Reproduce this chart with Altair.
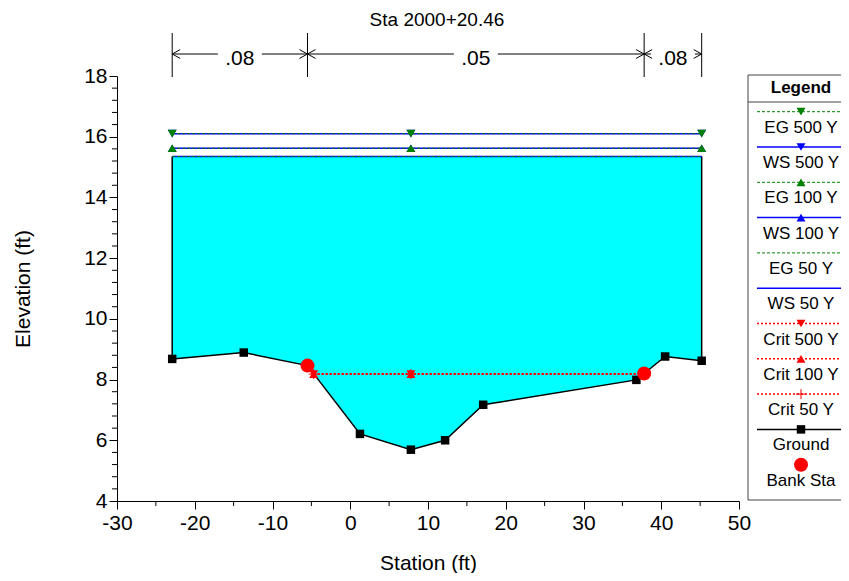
import altair as alt
import pandas as pd

FONT = "Liberation Sans"

# ---------------- data ----------------
title_text = "Sta 2000+20.46"
ground_sta = [-22.9, -13.7, -5.5, 1.25, 7.8, 12.2, 17.1, 36.8, 37.8, 40.5, 45.2]
ground_elev = [8.68, 8.89, 8.46, 6.21, 5.69, 6.00, 7.17, 7.99, 8.20, 8.76, 8.62]
bank_sta = [-5.5, 37.8]
bank_elev = [8.46, 8.20]
profile_names = ["EG 500 Y", "WS 500 Y", "EG 100 Y", "WS 100 Y", "EG 50 Y",
                 "WS 50 Y", "Crit 500 Y", "Crit 100 Y", "Crit 50 Y"]
profile_elev = [16.10, 16.10, 15.62, 15.62, 15.35, 15.35, 8.18, 8.18, 8.18]
crit_extent = [-4.7, 37.7]          # where the critical surface meets the ground
thalweg_sta = 7.8
n_sta = [-22.9, -5.5, 37.8, 45.2]
n_values = [".08", ".05", ".08"]
legend_names = profile_names + ["Ground", "Bank Sta"]
x_ticks = [-30, -20, -10, 0, 10, 20, 30, 40, 50]
y_ticks = [4, 6, 8, 10, 12, 14, 16, 18]
x_minor = [-25, -15, -5, 5, 15, 25, 35, 45]
y_minor = [round(4 + 0.4 * k, 1) for k in range(1, 35) if k % 5 != 0]

# ---------------- styles ----------------
W, H = 622, 425
XMIN, XMAX = -30, 50
PX_PER_UNIT = W / (XMAX - XMIN)
GREEN, BLUE, RED, CYAN = "#008000", "#0000FF", "#FF0000", "#00FFFF"
PLUS = "M -1 0 L 1 0 M 0 -1 L 0 1"
CHEV_L = "M 0 0 L 1 -0.55 M 0 0 L 1 0.55"
CHEV_R = "M 0 0 L -1 -0.55 M 0 0 L -1 0.55"

style = {
    "EG 500 Y": dict(color=GREEN, dash=[3, 2], width=1, shape="triangle-down"),
    "WS 500 Y": dict(color=BLUE, dash=None, width=1.5, shape="triangle-down"),
    "EG 100 Y": dict(color=GREEN, dash=[3, 2], width=1, shape="triangle-up"),
    "WS 100 Y": dict(color=BLUE, dash=None, width=1.5, shape="triangle-up"),
    "EG 50 Y": dict(color=GREEN, dash=[3, 2], width=1, shape=None),
    "WS 50 Y": dict(color=BLUE, dash=None, width=1.5, shape=None),
    "Crit 500 Y": dict(color=RED, dash=[2, 2], width=1.5, shape="triangle-down"),
    "Crit 100 Y": dict(color=RED, dash=[2, 2], width=1.5, shape="triangle-up"),
    "Crit 50 Y": dict(color=RED, dash=[2, 2], width=1.5, shape=PLUS),
    "Ground": dict(color="black", dash=None, width=1.5, shape="square"),
}

xs = alt.Scale(domain=[XMIN, XMAX], nice=False, zero=False)
ys = alt.Scale(domain=[4, 18], nice=False, zero=False)

axis_common = dict(grid=False, tickSize=8, tickColor="black", domainColor="black",
                   labelColor="black", titleColor="black", labelFont=FONT,
                   titleFont=FONT, labelFontSize=21, titleFontSize=21,
                   titleFontWeight="normal", labelFlush=False, labelOverlap=False,
                   labelExpr="datum.value + ''")
x_axis = alt.Axis(values=x_ticks, title="Station (ft)", labelPadding=3,
                  titlePadding=19, **axis_common)
y_axis = alt.Axis(values=y_ticks, title="Elevation (ft)", labelPadding=2,
                  titlePadding=50, **axis_common)


def X(f):
    return alt.X(f, type="quantitative", scale=xs, axis=x_axis)


def Y(f):
    return alt.Y(f, type="quantitative", scale=ys, axis=y_axis)


def line_kw(st):
    kw = dict(color=st["color"], strokeWidth=st["width"])
    if st["dash"]:
        kw["strokeDash"] = st["dash"]
    return kw


def point_kw(st, size=80):
    if st["shape"] == PLUS:
        return dict(shape=PLUS, filled=False, color=st["color"], strokeWidth=1,
                    size=100, opacity=1)
    return dict(shape=st["shape"], filled=True, color=st["color"], size=size,
                opacity=1, strokeWidth=0)


layers = []

# ---- water fill (lowest profile surface down to ground) ----
ws_fill = profile_elev[profile_names.index("WS 50 Y")]
area_df = pd.DataFrame({"sta": ground_sta, "elev": ground_elev, "top": ws_fill})
layers.append(alt.Chart(area_df).mark_area(color=CYAN, opacity=1).encode(
    x=X("sta"), y=Y("elev"), y2="top"))

# ---- vertical end walls ----
wall_df = pd.DataFrame({"sta": [ground_sta[0], ground_sta[-1]],
                        "elev": [ground_elev[0], ground_elev[-1]], "top": ws_fill})
layers.append(alt.Chart(wall_df).mark_rule(color="black", strokeWidth=1.5).encode(
    x=X("sta"), y=Y("elev"), y2="top"))

# ---- ground line ----
g_df = pd.DataFrame({"sta": ground_sta, "elev": ground_elev})
layers.append(alt.Chart(g_df).mark_line(**line_kw(style["Ground"])).encode(
    x=X("sta"), y=Y("elev")))
layers.append(alt.Chart(g_df).mark_point(**point_kw(style["Ground"], 72)).encode(
    x=X("sta"), y=Y("elev")))

# ---- minor ticks ----
layers.append(alt.Chart(pd.DataFrame({"v": x_minor})).mark_rule(color="black").encode(
    x=X("v"), y=alt.value(H), y2=alt.value(H + 5)))
layers.append(alt.Chart(pd.DataFrame({"v": y_minor})).mark_rule(color="black").encode(
    y=Y("v"), x=alt.value(-5), x2=alt.value(0)))

# ---- water surface profiles ----
draw_order = ["WS 50 Y", "EG 50 Y", "WS 100 Y", "EG 100 Y", "WS 500 Y", "EG 500 Y",
              "Crit 50 Y", "Crit 100 Y", "Crit 500 Y"]
for name in draw_order:
    st = style[name]
    v = profile_elev[profile_names.index(name)]
    if name.startswith("Crit"):
        a, b = crit_extent
    else:
        a, b = ground_sta[0], ground_sta[-1]
    ldf = pd.DataFrame({"sta": [a, b], "elev": [v, v]})
    layers.append(alt.Chart(ldf).mark_line(**line_kw(st)).encode(x=X("sta"), y=Y("elev")))
    if st["shape"]:
        mdf = pd.DataFrame({"sta": [a, thalweg_sta, b], "elev": [v, v, v]})
        layers.append(alt.Chart(mdf).mark_point(**point_kw(st)).encode(
            x=X("sta"), y=Y("elev")))

# ---- bank stations ----
layers.append(alt.Chart(pd.DataFrame({"sta": bank_sta, "elev": bank_elev})).mark_point(
    shape="circle", filled=True, color=RED, size=196, opacity=1).encode(
    x=X("sta"), y=Y("elev")))

# ---- title ----
mid_all = (ground_sta[0] + ground_sta[-1]) / 2
layers.append(alt.Chart(pd.DataFrame({"sta": [mid_all], "t": [title_text]})).mark_text(
    font=FONT, fontSize=19, color="black", baseline="alphabetic").encode(
    x=X("sta"), y=alt.value(-50), text="t:N"))

# ---- Manning's n annotation ----
N_TOP, N_BOT, N_LINE, N_TEXT = -43, 1, -22, -11
layers.append(alt.Chart(pd.DataFrame({"sta": n_sta})).mark_rule(color="black").encode(
    x=X("sta"), y=alt.value(N_TOP), y2=alt.value(N_BOT)))
gap = 22 / PX_PER_UNIT
segs, mids = [], []
for i, nv in enumerate(n_values):
    a, b = n_sta[i], n_sta[i + 1]
    m = (a + b) / 2
    mids.append(m)
    if m - gap > a:
        segs.append((a, m - gap))
    if b > m + gap:
        segs.append((m + gap, b))
seg_df = pd.DataFrame(segs, columns=["s1", "s2"])
layers.append(alt.Chart(seg_df).mark_rule(color="black").encode(
    x=X("s1"), x2="s2", y=alt.value(N_LINE)))
layers.append(alt.Chart(pd.DataFrame({"sta": n_sta[:-1]})).mark_point(
    shape=CHEV_L, filled=False, color="black", size=256, opacity=1, strokeWidth=1).encode(
    x=X("sta"), y=alt.value(N_LINE)))
layers.append(alt.Chart(pd.DataFrame({"sta": n_sta[1:]})).mark_point(
    shape=CHEV_R, filled=False, color="black", size=256, opacity=1, strokeWidth=1).encode(
    x=X("sta"), y=alt.value(N_LINE)))
layers.append(alt.Chart(pd.DataFrame({"sta": mids, "n": n_values})).mark_text(
    font=FONT, fontSize=21, color="black", baseline="alphabetic").encode(
    x=X("sta"), y=alt.value(N_TEXT), text="n:N"))

# ---- custom legend (pixel positions relative to the plot area) ----
one = pd.DataFrame({"a": [0]})
BOX_L, BOX_R, BOX_T, BOX_B = 631, 790, -1, H - 1
SAMPLE_A, SAMPLE_B, SAMPLE_C = 640, 728, 684
ROW0, ROWSTEP = 35.7, 35.3
layers.append(alt.Chart(one).mark_rect(fill="white", stroke="#444444", strokeWidth=1).encode(
    x=alt.value(BOX_L), x2=alt.value(BOX_R), y=alt.value(BOX_T), y2=alt.value(BOX_B)))
layers.append(alt.Chart(one).mark_rule(color="#444444", strokeWidth=1).encode(
    x=alt.value(BOX_L), x2=alt.value(BOX_R), y=alt.value(26), y2=alt.value(26)))
layers.append(alt.Chart(one).mark_text(
    font=FONT, fontSize=17, fontWeight="bold", color="black", baseline="middle").encode(
    x=alt.value(SAMPLE_C), y=alt.value(12), text=alt.value("Legend")))

for i, name in enumerate(legend_names):
    yl = ROW0 + i * ROWSTEP
    if name in style:
        st = style[name]
        layers.append(alt.Chart(one).mark_rule(**line_kw(st)).encode(
            x=alt.value(SAMPLE_A), x2=alt.value(SAMPLE_B), y=alt.value(yl), y2=alt.value(yl)))
        if st["shape"]:
            layers.append(alt.Chart(one).mark_point(
                **point_kw(st, 72 if name == "Ground" else 80)).encode(
                x=alt.value(SAMPLE_C), y=alt.value(yl)))
    else:
        layers.append(alt.Chart(one).mark_point(
            shape="circle", filled=True, color=RED, size=196, opacity=1).encode(
            x=alt.value(SAMPLE_C), y=alt.value(yl)))
    layers.append(alt.Chart(one).mark_text(
        font=FONT, fontSize=17, color="black", baseline="middle").encode(
        x=alt.value(SAMPLE_C), y=alt.value(yl + 16), text=alt.value(name)))

chart = alt.layer(*layers).properties(
    width=W, height=H,
    padding={"left": 109, "top": 68, "right": 102, "bottom": 72},
    autosize=alt.AutoSizeParams(type="none"),
).configure_view(stroke=None)

chart.save("out.html", embed_options={"renderer": "svg", "actions": False})
